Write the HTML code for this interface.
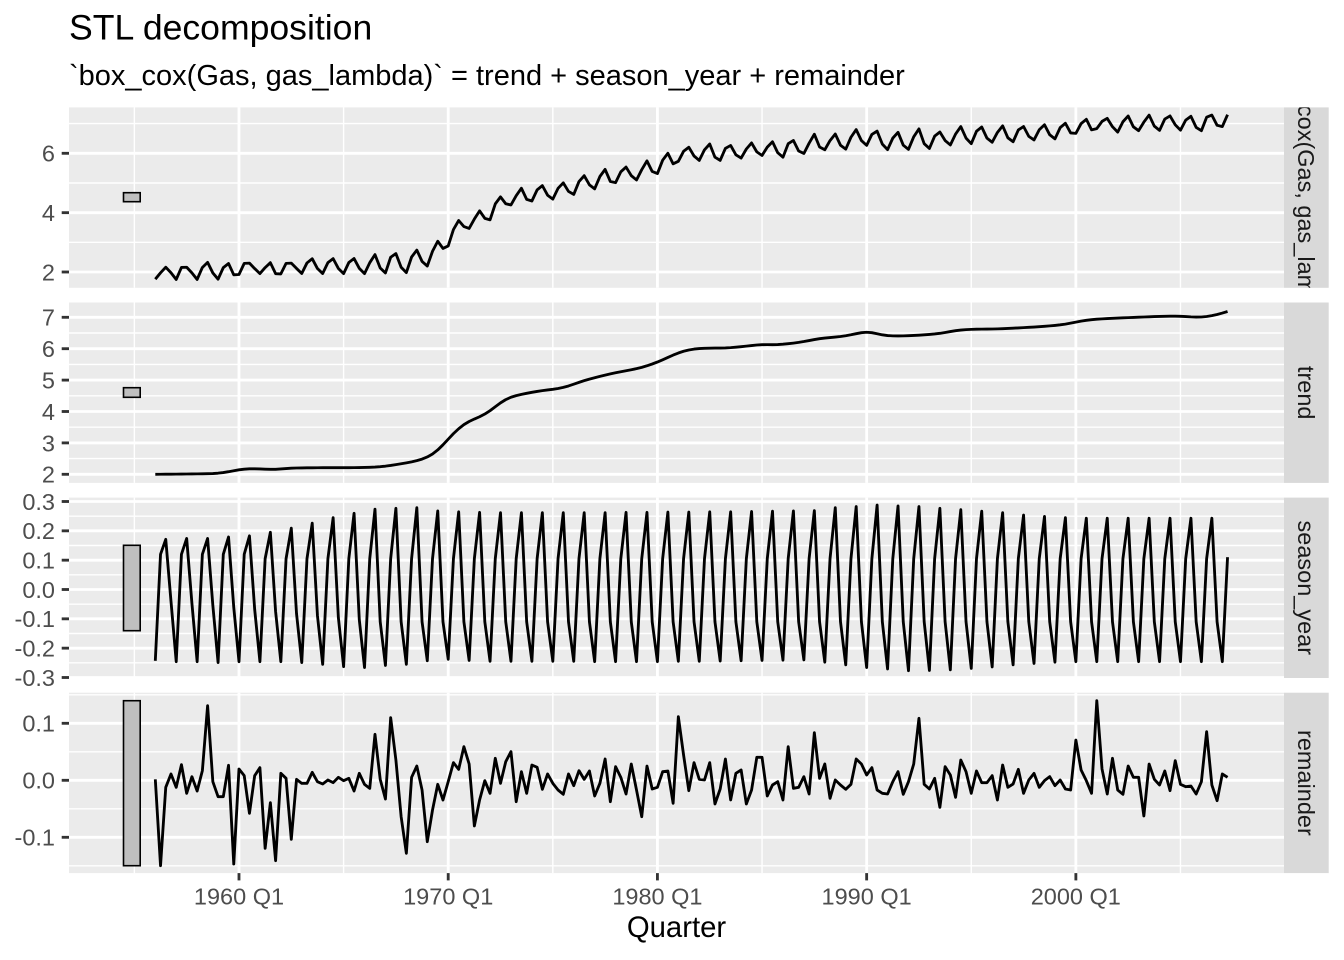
<!DOCTYPE html>
<html><head><meta charset="utf-8">
<style>
html,body{margin:0;padding:0;background:#fff;}
svg{display:block;}
text{font-family:"Liberation Sans",Arial,sans-serif;}
</style></head>
<body>
<svg id="s" width="1344" height="960" viewBox="0 0 1344 960" xmlns="http://www.w3.org/2000/svg">
<defs>
<clipPath id="cs1"><rect x="1284" y="107.4" width="44.7" height="180.4"/></clipPath>
<clipPath id="cs2"><rect x="1284" y="302.5" width="44.7" height="180.4"/></clipPath>
<clipPath id="cs3"><rect x="1284" y="497.6" width="44.7" height="180.4"/></clipPath>
<clipPath id="cs4"><rect x="1284" y="692.7" width="44.7" height="180.4"/></clipPath>
</defs>
<rect width="1344" height="960" fill="#fff"/>
<text x="69" y="39.5" font-size="35.6" fill="#000">STL decomposition</text>
<text x="69" y="85" font-size="29.0" fill="#000">`box_cox(Gas, gas_lambda)` = trend + season_year + remainder</text>

<g id="grid"></g>

<!-- strips -->
<rect x="1284" y="107.4" width="44.7" height="180.4" fill="#D9D9D9"/>
<rect x="1284" y="302.5" width="44.7" height="180.4" fill="#D9D9D9"/>
<rect x="1284" y="497.6" width="44.7" height="180.4" fill="#D9D9D9"/>
<rect x="1284" y="692.7" width="44.7" height="180.4" fill="#D9D9D9"/>
<g clip-path="url(#cs1)"><text transform="translate(1306.3,197.6) rotate(90)" y="8.2" text-anchor="middle" font-size="23.5" fill="#1A1A1A">box_cox(Gas, gas_lambda)</text></g>
<g clip-path="url(#cs2)"><text transform="translate(1306.3,392.7) rotate(90)" y="8.2" text-anchor="middle" font-size="23.5" fill="#1A1A1A">trend</text></g>
<g clip-path="url(#cs3)"><text transform="translate(1306.3,587.8) rotate(90)" y="8.2" text-anchor="middle" font-size="23.5" fill="#1A1A1A">season_year</text></g>
<g clip-path="url(#cs4)"><text transform="translate(1306.3,782.9) rotate(90)" y="8.2" text-anchor="middle" font-size="23.5" fill="#1A1A1A">remainder</text></g>

<!-- y tick labels -->
<g font-size="23.5" fill="#4D4D4D" text-anchor="end">
<text x="55" y="280.4">2</text>
<text x="55" y="221.1">4</text>
<text x="55" y="161.7">6</text>
<text x="55" y="482.7">2</text>
<text x="55" y="451.3">3</text>
<text x="55" y="419.9">4</text>
<text x="55" y="388.5">5</text>
<text x="55" y="357.1">6</text>
<text x="55" y="325.7">7</text>
<text x="55" y="509.9">0.3</text>
<text x="55" y="539.2">0.2</text>
<text x="55" y="568.6">0.1</text>
<text x="55" y="597.9">0.0</text>
<text x="55" y="627.2">-0.1</text>
<text x="55" y="656.6">-0.2</text>
<text x="55" y="685.9">-0.3</text>
<text x="55" y="731.7">0.1</text>
<text x="55" y="788.7">0.0</text>
<text x="55" y="845.7">-0.1</text>
</g>
<!-- x tick labels -->
<g font-size="23.5" fill="#4D4D4D" text-anchor="middle">
<text x="239" y="904.5">1960 Q1</text>
<text x="448.2" y="904.5">1970 Q1</text>
<text x="657.4" y="904.5">1980 Q1</text>
<text x="866.6" y="904.5">1990 Q1</text>
<text x="1075.8" y="904.5">2000 Q1</text>
</g>
<text x="676.5" y="937" font-size="29.3" fill="#000" text-anchor="middle">Quarter</text>

<g id="dyn"></g>
</svg>
<script>
(function(){
const NS="http://www.w3.org/2000/svg";
const grid=document.getElementById('grid');
const dyn=document.getElementById('dyn');
function el(tag,attrs,parent){const e=document.createElementNS(NS,tag);for(const k in attrs)e.setAttribute(k,attrs[k]);parent.appendChild(e);return e;}
const X0=69,X1=1284;
const xi=i=>155.3+5.2305*i;
const P=[{t:107.4,b:287.8},{t:302.5,b:482.9},{t:497.6,b:678.0},{t:692.7,b:873.1}];
const majH=[[272,212.67,153.3],[474.3,442.9,411.5,380.1,348.7,317.3],[501.5,530.84,560.17,589.5,618.83,648.16,677.5],[723.3,780.3,837.3]];
const minH=[[242.3,183,123.6],[458.6,427.2,395.8,364.4,333],[516.2,545.5,574.8,604.2,633.5,662.8],[694.8,751.8,808.8,865.8]];
const majV=[16,56,96,136,176].map(xi);
const minV=[-4,36,76,116,156,196].map(xi);
P.forEach((p,k)=>{
  el('rect',{x:X0,y:p.t,width:X1-X0,height:p.b-p.t,fill:'#EBEBEB'},grid);
  minH[k].forEach(y=>{if(y>p.t&&y<p.b)el('line',{x1:X0,x2:X1,y1:y,y2:y,stroke:'#fff','stroke-width':1.42},grid);});
  minV.forEach(x=>el('line',{x1:x,x2:x,y1:p.t,y2:p.b,stroke:'#fff','stroke-width':1.42},grid));
  majH[k].forEach(y=>el('line',{x1:X0,x2:X1,y1:y,y2:y,stroke:'#fff','stroke-width':2.84},grid));
  majV.forEach(x=>el('line',{x1:x,x2:x,y1:p.t,y2:p.b,stroke:'#fff','stroke-width':2.84},grid));
  majH[k].forEach(y=>el('line',{x1:61.7,x2:69,y1:y,y2:y,stroke:'#333','stroke-width':2.84},grid));
});
majV.forEach(x=>el('line',{x1:x,x2:x,y1:873.1,y2:880.4,stroke:'#333','stroke-width':2.84},grid));
// range bars
[[192.7,201.7],[387.7,397.3],[545.3,630.7],[700.7,865.7]].forEach(r=>{
  el('rect',{x:123.5,y:r[0],width:16.7,height:r[1]-r[0],fill:'#BFBFBF',stroke:'#000','stroke-width':1.6},dyn);
});
const N=206;
// trend
const kn=[[155,2.00],[190,2.01],[215,2.02],[228,2.07],[238,2.15],[248,2.18],[258,2.18],[268,2.15],[280,2.16],[290,2.20],[320,2.21],[350,2.21],[370,2.22],[385,2.25],[400,2.33],[412,2.39],[423,2.48],[435,2.65],[441,2.85],[447,3.09],[455,3.36],[463,3.59],[470,3.72],[480,3.82],[490,4.0],[503,4.37],[512,4.48],[520,4.54],[540,4.66],[560,4.73],[570,4.82],[583,4.98],[600,5.12],[613,5.22],[640,5.38],[657,5.56],[673,5.80],[685,5.95],[695,6.0],[707,6.02],[727,6.02],[747,6.08],[760,6.14],[777,6.12],[800,6.2],[820,6.33],[840,6.38],[855,6.46],[865,6.56],[872,6.53],[882,6.42],[900,6.40],[920,6.43],[940,6.48],[955,6.58],[970,6.62],[1000,6.63],[1040,6.70],[1065,6.77],[1080,6.88],[1095,6.94],[1120,6.98],[1160,7.03],[1180,7.04],[1200,6.99],[1215,7.06],[1229,7.20]];
let tr=[];
for(let i=0;i<N;i++){
  const x=xi(i);let v=kn[kn.length-1][1];
  for(let j=0;j<kn.length-1;j++){if(x>=kn[j][0]&&x<=kn[j+1][0]){const f=(x-kn[j][0])/(kn[j+1][0]-kn[j][0]);v=kn[j][1]+f*(kn[j+1][1]-kn[j][1]);break;}}
  if(x<kn[0][0])v=kn[0][1];
  tr.push(v);
}
for(let pass=0;pass<2;pass++){const t2=tr.slice();for(let i=1;i<N-1;i++)t2[i]=(tr[i-1]+tr[i]+tr[i+1])/3;tr=t2;}
// season
const Pk=[0.171,0.174,0.174,0.179,0.183,0.195,0.209,0.226,0.245,0.260,0.274,0.277,0.279,0.268,
0.265,0.263,0.262,0.262,0.262,0.262,0.262,0.262,0.263,0.263,0.264,0.264,0.265,0.265,0.266,0.267,0.268,
0.269,0.279,0.283,0.288,0.285,0.283,0.277,0.272,0.267,0.262,0.254,0.249,0.245,0.243,0.243,0.243,0.243,0.243,0.243,0.243,0.243];
const Tk=[-0.243,-0.246,-0.246,-0.249,-0.246,-0.246,-0.246,-0.249,-0.255,-0.263,-0.266,-0.259,-0.255,-0.243,-0.238,
-0.242,-0.245,-0.245,-0.245,-0.245,-0.245,-0.246,-0.246,-0.246,-0.246,-0.245,-0.245,-0.244,-0.243,-0.242,-0.241,
-0.240,-0.248,-0.257,-0.266,-0.271,-0.277,-0.276,-0.274,-0.269,-0.264,-0.257,-0.252,-0.248,-0.246,-0.246,-0.246,-0.246,-0.246,-0.246,-0.246,-0.246];
const se=[];
for(let i=0;i<N;i++){
  const k=Math.floor(i/4),q=i%4;let v;
  if(q===0)v=Tk[k];
  else if(q===1)v=(i===N-1)?0.11:(k<5?0.12:0.105);
  else if(q===2)v=Pk[k];
  else v=-0.04-0.07*Math.min(1,k/10);
  se.push(v);
}
// remainder (zoom y)
const rz=[268,527,292,252,292,224,310,260,303,242,47,275,320,320,226,522,237,257,370,257,233,475,338,512,250,265,448,268,280,280,247,275,282,270,278,262,272,265,303,250,283,295,133,268,327,83,210,380,490,262,228,300,455,360,283,330,275,218,238,170,222,408,330,272,310,205,280,215,185,335,245,310,225,232,298,252,280,300,313,252,287,242,268,243,318,280,207,335,230,262,312,222,300,380,228,297,292,245,243,340,80,195,302,218,268,270,218,342,297,207,330,250,240,342,300,202,202,318,285,275,330,170,295,292,260,312,128,265,222,325,270,285,298,283,207,222,255,233,300,310,312,275,245,313,275,222,85,283,297,265,352,230,255,322,210,245,310,243,278,278,257,330,225,292,282,238,310,270,250,292,272,260,287,270,297,300,150,240,272,310,32,237,312,205,300,313,228,262,262,378,222,268,285,243,302,212,283,290,288,312,275,125,285,332,252,262];
const re=rz.map(z=>(780.3-(690+z/3))/570);
function path(ys){let d='';for(let i=0;i<N;i++){d+=(i?'L':'M')+xi(i).toFixed(2)+' '+ys[i].toFixed(2);}return d;}
const y1=[],y2=[],y3=[],y4=[];
for(let i=0;i<N;i++){
  const v=tr[i]+se[i]+re[i];
  y1.push(272-(v-2)*29.675);
  y2.push(474.3-(tr[i]-2)*31.4);
  y3.push(589.5-se[i]*293.3);
  y4.push(690+rz[i]/3);
}
[y1,y2,y3,y4].forEach(ys=>el('path',{d:path(ys),fill:'none',stroke:'#000','stroke-width':2.84,'stroke-linejoin':'round'},dyn));
})();
</script>
</body></html>
